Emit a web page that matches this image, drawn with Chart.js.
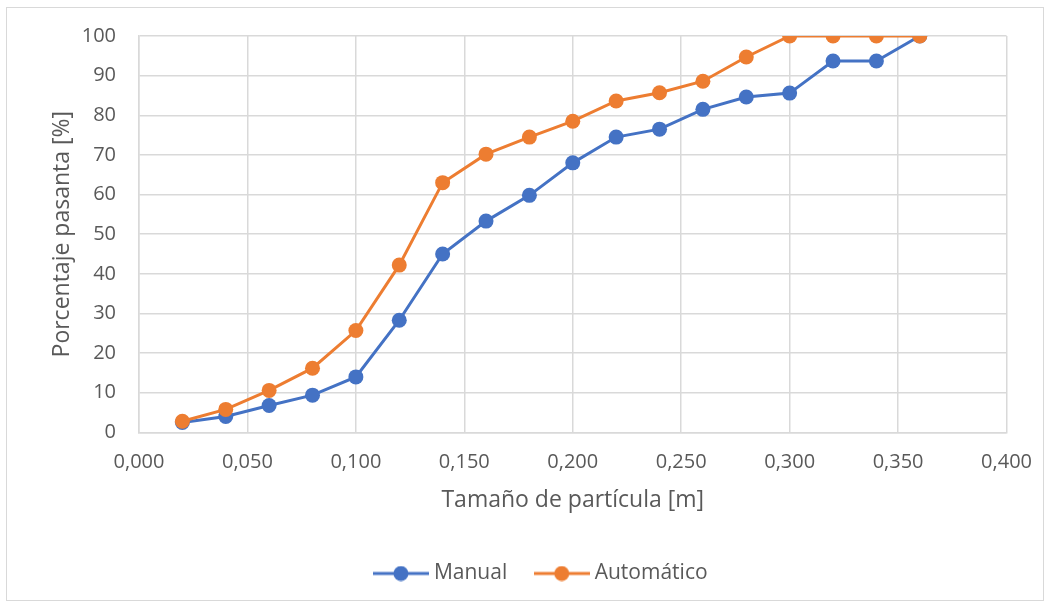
<!DOCTYPE html>
<html>
<head>
<meta charset="utf-8">
<script src="https://cdn.jsdelivr.net/npm/chart.js@4"></script>
<style>
  body { margin: 0; background: #fff; }
  #wrap { width: 1050px; height: 608px; }
</style>
</head>
<body>
<div id="wrap"><canvas id="psdChart" width="1050" height="608"></canvas></div>
<script>
const sizes = [0.02, 0.04, 0.06, 0.08, 0.10, 0.12, 0.14, 0.16, 0.18, 0.20, 0.22, 0.24, 0.26, 0.28, 0.30, 0.32, 0.34, 0.36];
const manual = [2.5, 4.0, 6.8, 9.4, 14.0, 28.3, 45.0, 53.3, 59.8, 68.0, 74.5, 76.5, 81.5, 84.6, 85.6, 93.7, 93.7, 100];
const automatico = [2.8, 5.8, 10.6, 16.2, 25.7, 42.2, 63.0, 70.2, 74.5, 78.5, 83.6, 85.7, 88.6, 94.7, 100, 100, 100, 100];

const FONT = "'Open Sans', 'Noto Sans', sans-serif";
const TEXT = "#595959";
const GRID = "#d9d9d9";

function toPoints(xs, ys) {
    return xs.map((x, i) => ({ x: x, y: ys[i] }));
}

function legendMarker(color) {
    const c = document.createElement("canvas");
    c.width = 56;
    c.height = 16;
    const g = c.getContext("2d");
    g.strokeStyle = color;
    g.lineWidth = 3;
    g.beginPath();
    g.moveTo(0, 8);
    g.lineTo(56, 8);
    g.stroke();
    g.fillStyle = color;
    g.beginPath();
    g.arc(28, 8, 7.5, 0, Math.PI * 2);
    g.fill();
    return c;
}

const frame = {
    id: "frame",
    beforeDraw(chart) {
        const ctx = chart.ctx;
        ctx.save();
        ctx.strokeStyle = GRID;
        ctx.lineWidth = 1;
        ctx.strokeRect(6.5, 7.5, 1037, 593);
        ctx.restore();
    },
    afterLayout(chart) {
        // excel centres the legend a bit further right
        chart.legend.left += 34;
    }
};

const ctx = document.getElementById("psdChart").getContext("2d");

new Chart(ctx, {
    type: "line",
    data: {
        datasets: [{
            label: "Manual",
            data: toPoints(sizes, manual),
            borderColor: "#4472C4",
            backgroundColor: "#4472C4",
            borderWidth: 3,
            pointRadius: 7.5,
            pointHoverRadius: 7.5,
            pointBorderWidth: 0,
            order: 1
        }, {
            label: "Automático",
            data: toPoints(sizes, automatico),
            borderColor: "#ED7D31",
            backgroundColor: "#ED7D31",
            borderWidth: 3,
            pointRadius: 7.5,
            pointHoverRadius: 7.5,
            pointBorderWidth: 0,
            order: 0
        }]
    },
    options: {
        responsive: false,
        animation: false,
        layout: { padding: { top: 36, right: 43, left: 45, bottom: 14 } },
        plugins: {
            legend: {
                position: "bottom",
                labels: {
                    color: TEXT,
                    font: { family: FONT, size: 21 },
                    usePointStyle: true,
                    pointStyleWidth: 45,
                    padding: 32,
                    sort: (a, b) => a.datasetIndex - b.datasetIndex,
                    generateLabels(chart) {
                        return chart.data.datasets.map((ds, i) => ({
                            text: ds.label,
                            fillStyle: ds.borderColor,
                            strokeStyle: ds.borderColor,
                            lineWidth: 0,
                            pointStyle: legendMarker(ds.borderColor),
                            fontColor: TEXT,
                            datasetIndex: i,
                            hidden: false
                        }));
                    }
                }
            },
            tooltip: { enabled: false }
        },
        scales: {
            x: {
                type: "linear",
                min: 0,
                max: 0.4,
                ticks: {
                    stepSize: 0.05,
                    color: TEXT,
                    font: { family: FONT, size: 20 },
                    padding: 18,
                    callback: v => v.toFixed(3).replace(".", ",")
                },
                grid: { color: GRID, lineWidth: 1.5, drawTicks: false },
                border: { color: GRID, width: 1.5 },
                title: {
                    display: true,
                    text: "Tamaño de partícula [m]",
                    color: TEXT,
                    font: { family: FONT, size: 23 },
                    padding: { top: -6, bottom: 17 }
                }
            },
            y: {
                min: 0,
                max: 100,
                afterFit(scale) { scale.width = 94; },
                ticks: {
                    stepSize: 10,
                    color: TEXT,
                    font: { family: FONT, size: 20 },
                    padding: 23
                },
                grid: { color: GRID, lineWidth: 1.5, drawTicks: false },
                border: { color: GRID, width: 1.5 },
                title: {
                    display: true,
                    text: "Porcentaje pasanta [%]",
                    color: TEXT,
                    font: { family: FONT, size: 23 }
                }
            }
        }
    },
    plugins: [frame]
});
</script>
</body>
</html>
